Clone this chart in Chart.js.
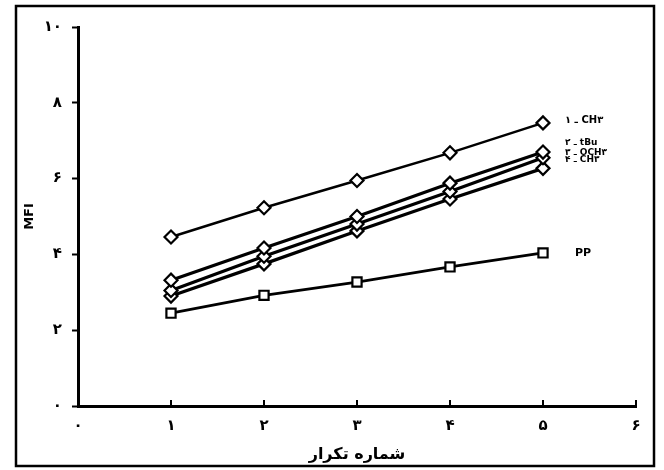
<!DOCTYPE html>
<html>
<head>
<meta charset="utf-8">
<script src="https://cdn.jsdelivr.net/npm/chart.js@4/dist/chart.umd.min.js"></script>
<style>
  html, body { margin: 0; padding: 0; background: #fff; }
  #wrap { width: 664px; height: 470px; position: relative; }
</style>
</head>
<body>
<div id="wrap"><canvas id="mfiChart" width="664" height="470"></canvas></div>
<script>
// Données
const cycles = [1, 2, 3, 4, 5];
const serie1 = [4.46, 5.23, 5.95, 6.68, 7.47];   // ۱ ـ CH۳
const serie2 = [3.32, 4.17, 5.0, 5.88, 6.70];    // ۲ ـ tBu
const serie3 = [3.05, 3.95, 4.80, 5.66, 6.55];   // ۳ ـ OCH۳
const serie4 = [2.90, 3.75, 4.62, 5.46, 6.27];   // ۴ ـ CH۳
const seriePP = [2.45, 2.92, 3.27, 3.67, 4.04];  // PP
const seriesLabels = ['۱ ـ CH۳', '۲ ـ tBu', '۳ ـ OCH۳', '۴ ـ CH۳', 'PP'];
const xTicks = [0, 1, 2, 3, 4, 5, 6];
const yTicks = [0, 2, 4, 6, 8, 10];

const fa = n => String(n).replace(/\d/g, d => '۰۱۲۳۴۵۶۷۸۹'[d]);

// décalage des étiquettes par rapport au dernier point
const labelOffsets = [[22, -2, 10], [22, -9, 9], [22, -5, 9], [22, -9, 9], [32, 0, 11]];

const makeSet = (data, i, shape, width) => ({
    label: seriesLabels[i],
    data: cycles.map((c, k) => ({ x: c, y: data[k] })),
    borderColor: '#000',
    borderWidth: width,
    pointStyle: shape,
    pointRadius: 6.5,
    pointBorderWidth: 2.2,
    pointBackgroundColor: '#fff',
    pointBorderColor: '#000',
    tension: 0,
});

const framePlugin = {
    id: 'frame',
    beforeDraw(chart) {
        const ctx = chart.ctx;
        ctx.save();
        ctx.strokeStyle = '#000';
        ctx.lineWidth = 2.5;
        ctx.strokeRect(16, 6, 638, 460);
        ctx.restore();
    },
    afterDatasetsDraw(chart) {
        const ctx = chart.ctx;
        const xs = chart.scales.x, ys = chart.scales.y;
        ctx.save();
        ctx.fillStyle = '#000';
        // petits traits vers l'intérieur sur l'axe x
        ctx.lineWidth = 2;
        xTicks.forEach(t => {
            const px = xs.getPixelForValue(t);
            ctx.beginPath();
            ctx.moveTo(px, ys.bottom);
            ctx.lineTo(px, ys.bottom - 6);
            ctx.stroke();
        });
        chart.data.datasets.forEach((ds, i) => {
            const pt = chart.getDatasetMeta(i).data[ds.data.length - 1];
            const [dx, dy, size] = labelOffsets[i];
            ctx.font = 'bold ' + size + 'px "DejaVu Sans"';
            ctx.textAlign = 'left';
            ctx.textBaseline = 'middle';
            ctx.fillText(ds.label, pt.x + dx, pt.y + dy);
        });
        ctx.restore();
    },
};

new Chart(document.getElementById('mfiChart'), {
    type: 'line',
    data: {
        datasets: [
            makeSet(serie1, 0, 'rectRot', 2.5),
            makeSet(serie2, 1, 'rectRot', 3.2),
            makeSet(serie3, 2, 'rectRot', 3.2),
            makeSet(serie4, 3, 'rectRot', 3.2),
            makeSet(seriePP, 4, 'rect', 2.8),
        ],
    },
    options: {
        responsive: false,
        animation: false,
        layout: { padding: { left: 20, top: 27, right: 28, bottom: 0 } },
        plugins: { legend: { display: false }, tooltip: { enabled: false } },
        scales: {
            x: {
                type: 'linear',
                min: 0, max: 6,
                afterBuildTicks: s => { s.ticks = xTicks.map(v => ({ value: v })); },
                afterFit: s => { s.height = 64; },
                grid: { display: true, drawOnChartArea: false, drawTicks: false },
                border: { display: true, color: '#000', width: 3 },
                ticks: {
                    color: '#000', padding: 11,
                    font: { family: 'DejaVu Sans', size: 15, weight: 'bold' },
                    callback: v => fa(v),
                },
                title: {
                    display: true, text: 'شماره تکرار', color: '#000',
                    font: { family: 'DejaVu Sans', size: 16, weight: 'bold' },
                    padding: { top: 0, bottom: 6 },
                },
            },
            y: {
                min: 0, max: 10,
                afterBuildTicks: s => { s.ticks = yTicks.map(v => ({ value: v })); },
                afterFit: s => { s.width = 58; },
                grid: { display: true, drawOnChartArea: false, tickLength: 6, tickWidth: 2, tickColor: '#000' },
                border: { display: true, color: '#000', width: 3 },
                ticks: {
                    color: '#000', padding: 10,
                    font: { family: 'DejaVu Sans', size: 15, weight: 'bold' },
                    callback: v => fa(v),
                },
                title: {
                    display: true, text: 'MFI', color: '#000',
                    font: { family: 'DejaVu Sans', size: 13, weight: 'bold' },
                    padding: { top: 2, bottom: 0 },
                },
            },
        },
    },
    plugins: [framePlugin],
});
</script>
</body>
</html>
